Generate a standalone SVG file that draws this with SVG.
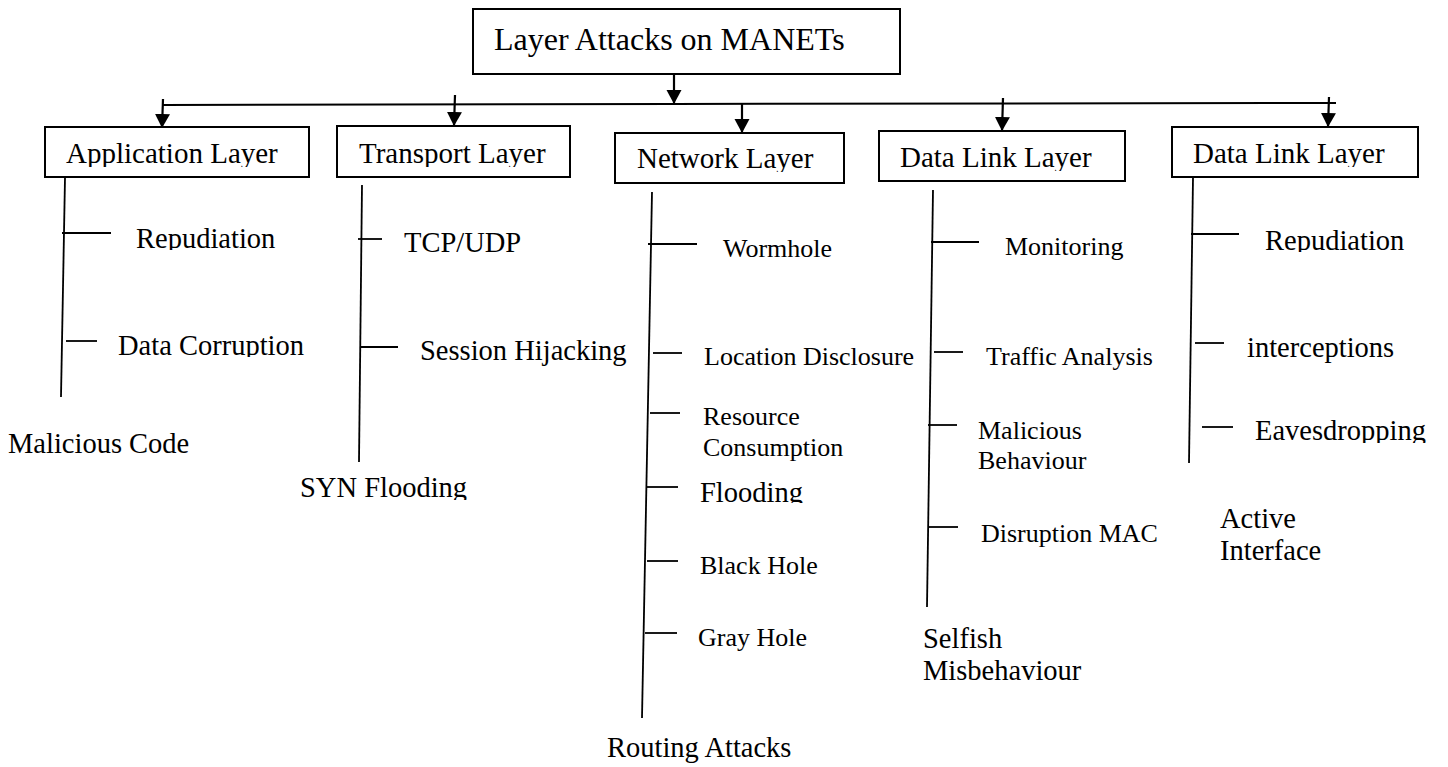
<svg xmlns="http://www.w3.org/2000/svg" width="1448" height="767" viewBox="0 0 1448 767">
  <style>
    .box { fill: #fff; stroke: #000; stroke-width: 2; }
    .t { font-family: "Liberation Serif", "Times New Roman", serif; fill: #000; }
    .title { font-size: 32px; }
    .lg { font-size: 29px; }
    .md { font-size: 28.5px; }
    .sm { font-size: 26px; }
    .ln { stroke: #000; stroke-width: 2; fill: none; }
    .tr { stroke: #000; stroke-width: 1.8; fill: none; }
    .arr { stroke: #000; stroke-width: 2.2; fill: none; marker-end: url(#head); }
  </style>
  <defs>
    <marker id="head" markerUnits="userSpaceOnUse" markerWidth="16" markerHeight="16" refX="14" refY="7.5" orient="auto">
      <path d="M0,0 L14,7.5 L0,15 z" fill="#000"/>
    </marker>
    <!-- labels whose descenders are trimmed by their text frames -->
    <clipPath id="c-app" clipPathUnits="userSpaceOnUse"><rect x="0" y="120" width="340" height="47"/></clipPath>
    <clipPath id="c-tra" clipPathUnits="userSpaceOnUse"><rect x="330" y="120" width="260" height="47"/></clipPath>
    <clipPath id="c-net" clipPathUnits="userSpaceOnUse"><rect x="610" y="130" width="240" height="42"/></clipPath>
    <clipPath id="c-dl1" clipPathUnits="userSpaceOnUse"><rect x="870" y="130" width="260" height="41"/></clipPath>
    <clipPath id="c-dl2" clipPathUnits="userSpaceOnUse"><rect x="1170" y="120" width="260" height="47"/></clipPath>
    <clipPath id="c-rep1" clipPathUnits="userSpaceOnUse"><rect x="120" y="210" width="200" height="40"/></clipPath>
    <clipPath id="c-dcor" clipPathUnits="userSpaceOnUse"><rect x="110" y="320" width="220" height="37"/></clipPath>
    <clipPath id="c-syn" clipPathUnits="userSpaceOnUse"><rect x="290" y="465" width="200" height="35"/></clipPath>
    <clipPath id="c-flood" clipPathUnits="userSpaceOnUse"><rect x="690" y="470" width="140" height="33"/></clipPath>
    <clipPath id="c-rep2" clipPathUnits="userSpaceOnUse"><rect x="1250" y="210" width="190" height="42"/></clipPath>
    <clipPath id="c-eave" clipPathUnits="userSpaceOnUse"><rect x="1245" y="405" width="200" height="38"/></clipPath>
  </defs>

  <rect width="1448" height="767" fill="#fff"/>

  <!-- connectors: bus, arrows, branch lines and ticks -->
  <g id="connectors">
    <path class="ln" d="M163,105 L674,104 L1336,103"/>
    <line class="arr" x1="674" y1="74" x2="674" y2="104"/>
    <line class="arr" x1="163" y1="99" x2="162" y2="128"/>
    <line class="arr" x1="455" y1="95" x2="454" y2="126"/>
    <line class="arr" x1="742" y1="104" x2="742" y2="133"/>
    <line class="arr" x1="1003" y1="98" x2="1002" y2="131"/>
    <line class="arr" x1="1329" y1="97" x2="1328" y2="127"/>

    <!-- application branch -->
    <line class="tr" x1="65" y1="178" x2="61" y2="397"/>
    <line class="tr" x1="62" y1="233" x2="111" y2="233"/>
    <line class="tr" x1="66" y1="341" x2="97" y2="341"/>

    <!-- transport branch -->
    <line class="tr" x1="362" y1="185" x2="359" y2="462"/>
    <line class="tr" x1="358" y1="239" x2="382" y2="239"/>
    <line class="tr" x1="361" y1="347" x2="398" y2="347"/>

    <!-- network branch -->
    <line class="tr" x1="652" y1="192" x2="642" y2="718"/>
    <line class="tr" x1="648" y1="244" x2="697" y2="244"/>
    <line class="tr" x1="653" y1="353" x2="682" y2="353"/>
    <line class="tr" x1="650" y1="413" x2="680" y2="413"/>
    <line class="tr" x1="646" y1="487" x2="678" y2="487"/>
    <line class="tr" x1="647" y1="561" x2="678" y2="561"/>
    <line class="tr" x1="645" y1="633" x2="677" y2="633"/>

    <!-- first data link branch -->
    <line class="tr" x1="933" y1="190" x2="927" y2="607"/>
    <line class="tr" x1="931" y1="242" x2="979" y2="242"/>
    <line class="tr" x1="934" y1="352" x2="963" y2="352"/>
    <line class="tr" x1="928" y1="425" x2="957" y2="425"/>
    <line class="tr" x1="929" y1="527" x2="958" y2="527"/>

    <!-- second data link branch -->
    <line class="tr" x1="1193" y1="178" x2="1189" y2="463"/>
    <line class="tr" x1="1191" y1="234" x2="1239" y2="234"/>
    <line class="tr" x1="1195" y1="343" x2="1224" y2="343"/>
    <line class="tr" x1="1202" y1="427" x2="1233" y2="427"/>
  </g>

  <g id="root">
    <rect class="box" x="473" y="9" width="427" height="65"/>
    <text class="t title" x="494" y="50">Layer Attacks on MANETs</text>
  </g>

  <g id="application-layer">
    <rect class="box" x="45" y="127" width="264" height="50"/>
    <text class="t lg" x="66" y="163" clip-path="url(#c-app)">Application Layer</text>
  </g>
  <g id="transport-layer">
    <rect class="box" x="337" y="126" width="233" height="51"/>
    <text class="t lg" x="359" y="163" clip-path="url(#c-tra)">Transport Layer</text>
  </g>
  <g id="network-layer">
    <rect class="box" x="615" y="133" width="229" height="50"/>
    <text class="t lg" x="637" y="168" clip-path="url(#c-net)">Network Layer</text>
  </g>
  <g id="data-link-layer-1">
    <rect class="box" x="879" y="131" width="246" height="50"/>
    <text class="t lg" x="900" y="167" clip-path="url(#c-dl1)">Data Link Layer</text>
  </g>
  <g id="data-link-layer-2">
    <rect class="box" x="1172" y="127" width="246" height="50"/>
    <text class="t lg" x="1193" y="163" clip-path="url(#c-dl2)">Data Link Layer</text>
  </g>

  <!-- application layer attacks -->
  <g id="app-repudiation"><text class="t md" x="136" y="248" clip-path="url(#c-rep1)">Repudiation</text></g>
  <g id="app-data-corruption"><text class="t md" x="118" y="355" clip-path="url(#c-dcor)">Data Corruption</text></g>
  <g id="app-malicious-code"><text class="t md" x="8" y="453">Malicious Code</text></g>

  <!-- transport layer attacks -->
  <g id="tra-tcp-udp"><text class="t md" x="404" y="252">TCP/UDP</text></g>
  <g id="tra-session"><text class="t md" x="420" y="360">Session Hijacking</text></g>
  <g id="tra-syn"><text class="t md" x="300" y="497" clip-path="url(#c-syn)">SYN Flooding</text></g>

  <!-- network layer attacks -->
  <g id="net-wormhole"><text class="t sm" x="723" y="257">Wormhole</text></g>
  <g id="net-location"><text class="t sm" x="704" y="365">Location Disclosure</text></g>
  <g id="net-resource">
    <text class="t sm" x="703" y="425">Resource</text>
    <text class="t sm" x="703" y="456">Consumption</text>
  </g>
  <g id="net-flooding"><text class="t md" x="700" y="502" clip-path="url(#c-flood)">Flooding</text></g>
  <g id="net-black-hole"><text class="t sm" x="700" y="574">Black Hole</text></g>
  <g id="net-gray-hole"><text class="t sm" x="698" y="646">Gray Hole</text></g>
  <g id="net-routing"><text class="t md" x="607" y="757">Routing Attacks</text></g>

  <!-- first data link layer attacks -->
  <g id="dl1-monitoring"><text class="t sm" x="1005" y="255">Monitoring</text></g>
  <g id="dl1-traffic"><text class="t sm" x="986" y="365">Traffic Analysis</text></g>
  <g id="dl1-malicious">
    <text class="t sm" x="978" y="439">Malicious</text>
    <text class="t sm" x="978" y="469">Behaviour</text>
  </g>
  <g id="dl1-disruption"><text class="t sm" x="981" y="542">Disruption MAC</text></g>
  <g id="dl1-selfish">
    <text class="t md" x="923" y="648">Selfish</text>
    <text class="t md" x="923" y="680">Misbehaviour</text>
  </g>

  <!-- second data link layer attacks -->
  <g id="dl2-repudiation"><text class="t md" x="1265" y="250" clip-path="url(#c-rep2)">Repudiation</text></g>
  <g id="dl2-interceptions"><text class="t md" x="1247" y="357">interceptions</text></g>
  <g id="dl2-eavesdropping"><text class="t md" x="1255" y="440" clip-path="url(#c-eave)">Eavesdropping</text></g>
  <g id="dl2-active">
    <text class="t md" x="1220" y="528">Active</text>
    <text class="t md" x="1220" y="560">Interface</text>
  </g>
</svg>
